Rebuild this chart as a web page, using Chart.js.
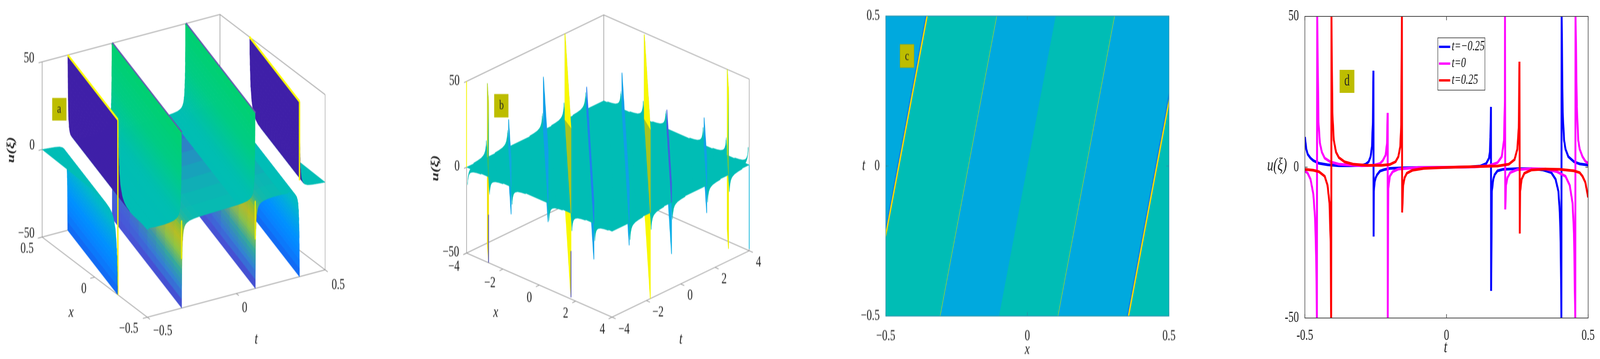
<!DOCTYPE html>
<html>
<head>
<meta charset="utf-8">
<title>u(xi) surfaces</title>
<script src="https://cdn.jsdelivr.net/npm/chart.js@4"></script>
<style>
html,body{margin:0;background:#fff;overflow:hidden;width:100%;height:920px}
#figure{position:absolute;left:0;top:0;width:100%;height:920px;overflow:hidden}
canvas{position:absolute;top:0;transform-origin:0 0}
</style>
</head>
<body>
<div id="figure"></div>
<script>
// panel a: pole lines t = pole + 0.2 x, one sheet profile read from the walls
const aPoles = [-0.456, -0.207, 0.207, 0.456];
const aLeftSign = [-1, 1, 1, -1];
const aRightSign = [1, -1, -1, 1];
const aOuterXi = [-0.6, -0.4, 0.4, 0.6];
const poleDist = [0.0005, 0.0007, 0.0009, 0.0011, 0.0013, 0.0015, 0.0018, 0.002, 0.0023, 0.0026, 0.003, 0.0035, 0.004, 0.0045, 0.005, 0.006, 0.007, 0.008, 0.009, 0.012, 0.016, 0.022, 0.03, 0.045, 0.07, 0.1];
const poleHeight = [50, 45, 40, 37, 34, 31, 28, 26, 24, 22, 20, 18, 16, 14.5, 13, 11.5, 10, 8.5, 7.5, 5.5, 4, 2.8, 2, 1.2, 0.7, 0.4];
const aTicksT = [-0.5, 0, 0.5];
const aTicksX = [-0.5, 0, 0.5];
const aTicksU = [-50, 0, 50];
const aEdgeFrom = [50, 0, 0, 50];
const aEdgeTo = [-50, -22, -22, 5];

// panel b: pole lines x + t = s, spike tops and bottoms
const bPoles = [-8, -6.79, -5.55, -3.52, -2.26, -1.0, 1.0, 2.23, 3.47, 5.52, 6.79, 8];
const bTop = [50, 43, 16, 31, 50, 13, 21, 49, 11, 16, 50, 0];
const bBottom = [0, -50, -16, -11, -49, -21, -13, -50, -30, -16, -43, -49];
const bTicksX = [-4, -2, 0, 2, 4];
const bTicksT = [-4, -2, 0, 2, 4];
const bTicksU = [-50, 0, 50];

// panel c: stripe edges at t = 0
const cYellowEdges = [-0.454, 0.457];
const cThinEdges = [-0.208, 0.208];
const cTealBands = [[-0.454, -0.208], [0, 0.208], [0.457, 0.9]];
const cXTicks = [-0.5, 0, 0.5];
const cXLabels = ['\u22120.5', '0', '0.5'];
const cYTicks = [-0.5, 0, 0.5];
const cYLabels = ['\u22120.5', '0', '0.5'];

// panel d: three time slices
const dNames = ['t=\u22120.25', 't=0', 't=0.25'];
const blueX = [-0.5, -0.495, -0.49, -0.48, -0.47, -0.45, -0.42, -0.38, -0.34, -0.3, -0.285, -0.275, -0.268, -0.263, -0.26, -0.258, -0.2575, -0.2565, -0.254, -0.25, -0.245, -0.235, -0.22, -0.2, -0.15, -0.1, 0, 0.08, 0.12, 0.14, 0.15, 0.153, 0.155, 0.157, 0.1575, 0.16, 0.165, 0.17, 0.18, 0.2, 0.25, 0.3, 0.34, 0.37, 0.385, 0.395, 0.4, 0.403, 0.4055, 0.4065, 0.41, 0.415, 0.42, 0.43, 0.45, 0.47, 0.5];
const blueU = [10, 6, 4.3, 3, 2.2, 1.3, 0.8, 0.5, 0.5, 0.6, 1, 1.8, 3.5, 7, 15, 32, -23, -8, -5, -3.5, -2.5, -1.3, -0.8, -0.4, -0.2, -0.1, -0.05, 0.1, 0.4, 1.2, 3, 5, 10, 20, -41, -8, -4, -2.5, -1.2, -0.7, -0.5, -0.5, -0.9, -1.8, -4, -8, -15, -25, -50, 50, 18, 9, 6, 3.5, 1.8, 1.1, 0.7];
const magentaX = [-0.5, -0.49, -0.48, -0.47, -0.464, -0.46, -0.4575, -0.4565, -0.452, -0.447, -0.44, -0.43, -0.41, -0.38, -0.34, -0.3, -0.26, -0.235, -0.225, -0.215, -0.21, -0.208, -0.2075, -0.2055, -0.2, -0.19, -0.17, -0.1, 0, 0.1, 0.15, 0.18, 0.195, 0.203, 0.206, 0.2065, 0.2075, 0.21, 0.215, 0.225, 0.25, 0.3, 0.35, 0.39, 0.42, 0.435, 0.445, 0.45, 0.4545, 0.4555, 0.46, 0.465, 0.47, 0.48, 0.49, 0.5];
const magentaU = [-1.2, -2, -4, -9, -17, -30, -50, 50, 15, 8, 5, 3, 1.8, 1, 0.7, 0.5, 0.6, 1.2, 2.2, 4, 8, 18, -50, -7, -3, -1.5, -0.6, -0.1, 0, 0.1, 0.5, 1.5, 3.5, 9, 22, 50, -14, -6, -3.5, -1.8, -0.8, -0.5, -0.6, -1.5, -3, -6, -12, -22, -50, 50, 20, 9, 6, 3.5, 2, 1.3];
const redX = [-0.5, -0.47, -0.45, -0.43, -0.42, -0.413, -0.409, -0.4072, -0.4062, -0.403, -0.398, -0.39, -0.38, -0.36, -0.33, -0.28, -0.23, -0.2, -0.18, -0.17, -0.163, -0.16, -0.1575, -0.1565, -0.153, -0.148, -0.14, -0.12, -0.08, 0, 0.1, 0.18, 0.22, 0.24, 0.25, 0.255, 0.2575, 0.2585, 0.26, 0.265, 0.275, 0.3, 0.35, 0.4, 0.45, 0.47, 0.48, 0.49, 0.5];
const redU = [-0.7, -1, -1.5, -3, -6, -12, -25, -50, 50, 18, 9, 5, 3.2, 1.8, 1, 0.6, 0.6, 0.9, 1.8, 3.5, 7, 14, 50, -15, -6, -3.5, -2, -1, -0.4, -0.05, 0.2, 0.4, 1, 2.5, 6, 13, 35, -22, -8, -4, -2, -0.9, -0.6, -0.7, -1.2, -1.8, -3, -5, -10];
const dXTicks = [-0.5, 0, 0.5];
const dXLabels = ['-0.5', '0', '0.5'];
const dYTicks = [-50, 0, 50];
const dYLabels = ['-50', '0', '50'];

// the window can be narrower than the 4140 wide picture, so everything is fitted to it
const fit = Math.min(1, window.innerWidth / 4140);
const squeeze = 0.7;
const serif = '"Liberation Serif"';
const teal = '#00BDB5';
const greyLine = '#999999';
const figure = document.getElementById('figure');

function hexToRgb(h) { return [1, 3, 5].map(i => parseInt(h.substr(i, 2), 16)); }
function mix(c1, c2, f) {
  const a = hexToRgb(c1), b = hexToRgb(c2);
  return '#' + a.map((v, i) => Math.round(v + (b[i] - v) * f).toString(16).padStart(2, '0')).join('');
}
function ramp(stops, v) {
  if (v <= stops[0][0]) return stops[0][1];
  for (let i = 1; i < stops.length; i++) {
    if (v <= stops[i][0]) return mix(stops[i - 1][1], stops[i][1], (v - stops[i - 1][0]) / (stops[i][0] - stops[i - 1][0]));
  }
  return stops[stops.length - 1][1];
}

function poly(pts, color, bw) {
  const closed = pts.concat([pts[0]]);
  return { data: closed.map(p => ({ x: p[0], y: p[1] })), showLine: true, fill: 'shape', backgroundColor: color, borderColor: color, borderWidth: bw === undefined ? 1 : bw, pointRadius: 0, tension: 0 };
}
function stroke(pts, color, w) {
  return { data: pts.map(p => ({ x: p[0], y: p[1] })), showLine: true, fill: false, borderColor: color, borderWidth: w, pointRadius: 0, tension: 0 };
}

// texts and little boxes, positions in picture pixels
function panelText(left, items) {
  return {
    id: 'panelText',
    afterDraw(chart) {
      const c = chart.ctx;
      items.forEach(it => {
        const px = (it.x - left) / squeeze;
        c.save();
        if (it.box) {
          c.fillStyle = it.box;
          c.fillRect(px, it.y, it.w / squeeze, it.h);
          if (it.edge) { c.strokeStyle = it.edge; c.lineWidth = 1.5; c.strokeRect(px, it.y, it.w / squeeze, it.h); }
        } else if (it.seg) {
          c.strokeStyle = it.seg; c.lineWidth = it.lw;
          c.beginPath(); c.moveTo(px, it.y); c.lineTo((it.x2 - left) / squeeze, it.y); c.stroke();
        } else {
          c.font = it.font || '39px ' + serif;
          c.fillStyle = it.color || '#222';
          c.textAlign = it.align || 'center';
          c.textBaseline = 'middle';
          c.translate(px, it.y);
          if (it.rot) c.rotate(it.rot);
          c.fillText(it.text, 0, 0);
        }
        c.restore();
      });
    }
  };
}

// frame round the plot with short inward ticks on all four sides
function framePlugin(color, width, len) {
  return {
    id: 'frame',
    afterDatasetsDraw(chart) {
      const c = chart.ctx, a = chart.chartArea, sx = chart.scales.x, sy = chart.scales.y;
      c.save();
      c.strokeStyle = color; c.lineWidth = width;
      c.strokeRect(a.left, a.top, a.right - a.left, a.bottom - a.top);
      sx.ticks.forEach(t => {
        const p = sx.getPixelForValue(t.value);
        c.beginPath(); c.moveTo(p, a.top); c.lineTo(p, a.top + len); c.moveTo(p, a.bottom); c.lineTo(p, a.bottom - len); c.stroke();
      });
      sy.ticks.forEach(t => {
        const p = sy.getPixelForValue(t.value);
        c.beginPath(); c.moveTo(a.left, p); c.lineTo(a.left + len, p); c.moveTo(a.right, p); c.lineTo(a.right - len, p); c.stroke();
      });
      c.restore();
    }
  };
}

function addChart(left, width, datasets, scales, padding, plugins, soft) {
  const cv = document.createElement('canvas');
  cv.width = Math.round(width / squeeze);
  cv.height = 920;
  cv.style.left = (left * fit) + 'px';
  cv.style.transform = 'scaleX(' + (squeeze * fit) + ')';
  if (soft) cv.style.filter = 'blur(0.8px)';
  figure.appendChild(cv);
  return new Chart(cv, {
    type: 'scatter',
    data: { datasets: datasets },
    options: {
      responsive: false, animation: false, devicePixelRatio: 1, events: [],
      layout: { padding: padding },
      plugins: { legend: { display: false }, tooltip: { enabled: false } },
      scales: scales
    },
    plugins: plugins
  });
}

function hiddenScales(left, width) {
  return {
    x: { type: 'linear', display: false, min: left, max: left + width },
    y: { type: 'linear', display: false, min: 0, max: 920, reverse: true }
  };
}

function tickAxis(vals, labels, min, max, size, pad) {
  return {
    type: 'linear', min: min, max: max,
    grid: { display: false }, border: { display: false },
    afterBuildTicks(s) { s.ticks = vals.map(v => ({ value: v })); },
    afterFit(s) { if (s.isHorizontal()) s.height = size; else s.width = size; },
    ticks: {
      autoSkip: false, maxRotation: 0, padding: pad, color: '#222',
      font: { family: 'Liberation Serif', size: 39 },
      callback: v => labels[vals.indexOf(v)]
    }
  };
}

/* ===== panel a ===== */
function projA(t, x, u) {
  return [381 + (t + 0.5) * 460 - (x + 0.5) * 272, 813 - (t + 0.5) * 121.5 - (x + 0.5) * 205.4 - (u + 50) * 4.49];
}
const greenStops = [[0, teal], [10, '#00C4A0'], [25, '#00CC85'], [50, '#00D070']];
const indigoStops = [[0, teal], [2.5, teal], [3.5, '#3F1FA8'], [50, '#3F1FA8']];
const blueStops = [[0, teal], [10, '#00B8C8'], [20, '#00A4E8'], [30, '#0090FF'], [40, '#0880FF'], [50, '#1464F0']];
const mottledStops = [[0, teal], [2, '#20B8A0'], [6, '#90C030'], [12, '#B8C020'], [20, '#90C840'], [30, '#30A8A0'], [40, '#3080D8'], [50, '#4A40D0']];

function xRange(xi) {
  return [Math.max(-0.5, (-0.5 - xi) / 0.2), Math.min(0.5, (0.5 - xi) / 0.2)];
}
function sheetPoint(xi, x, u) { return projA(xi + 0.2 * x, x, u); }

const aStations = aOuterXi.map(xi => ({ xi: xi, u: 0, pole: -1 }));
aPoles.forEach((p, i) => {
  poleDist.forEach((d, k) => {
    aStations.push({ xi: p - d, u: aLeftSign[i] * poleHeight[k], pole: i, side: 'L' });
    aStations.push({ xi: p + d, u: aRightSign[i] * poleHeight[k], pole: i, side: 'R' });
  });
});
aStations.sort((a, b) => b.xi - a.xi);

function sheetStops(s) {
  if (s.pole === 0 || s.pole === 3) return s.u > 0 ? indigoStops : blueStops;
  return s.u > 0 ? greenStops : mottledStops;
}

const aBack = [];
// box first
[[[-0.5, 0.5, 50], [0.5, 0.5, 50], [-0.5 + 1, -0.5, 50]],
 [[-0.5, 0.5, 50], [-0.5, 0.5, -50], [0.5, 0.5, -50], [0.5, -0.5, -50], [-0.5, -0.5, -50], [-0.5, 0.5, -50]],
 [[0.5, 0.5, 50], [0.5, 0.5, -50]],
 [[0.5, -0.5, 50], [0.5, -0.5, -50]]].forEach(run => aBack.push(stroke(run.map(p => projA(p[0], p[1], p[2])), greyLine, 2)));
aTicksT.forEach(t => aBack.push(stroke([projA(t, -0.5, -50), projA(t, -0.525, -50)], greyLine, 2)));
aTicksX.forEach(x => aBack.push(stroke([projA(-0.5, x, -50), projA(-0.525, x, -50)], greyLine, 2)));
aTicksU.forEach(u => aBack.push(stroke([projA(-0.5, 0.5, u), projA(-0.52, 0.5, u)], greyLine, 2)));

for (let i = 0; i < aStations.length - 1; i++) {
  const s1 = aStations[i], s2 = aStations[i + 1];
  if (s1.pole === s2.pole && s1.pole >= 0 && s1.side !== s2.side) {
    // crossing a pole line: no sheet here, only its bright edges
    const p = aPoles[s1.pole], r = xRange(p), big = s1.pole === 0 || s1.pole === 3;
    aBack.push(stroke([sheetPoint(p, r[0], aEdgeFrom[s1.pole]), sheetPoint(p, r[0], aEdgeTo[s1.pole])], '#F4F000', big ? 5 : 4));
    aBack.push(stroke([sheetPoint(p, r[0], 50), sheetPoint(p, r[1], 50)], big ? '#FFFF00' : '#6A55B0', big ? 6 : 8));
    continue;
  }
  const lead = Math.abs(s1.u) > Math.abs(s2.u) ? s1 : s2;
  const uMean = (Math.abs(s1.u) + Math.abs(s2.u)) / 2;
  const base = lead.pole < 0 ? teal : ramp(sheetStops(lead), uMean);
  const r1 = xRange(s1.xi), r2 = xRange(s2.xi);
  const pieces = lead.pole >= 0 && sheetStops(lead) === mottledStops ? 8 : 1;
  for (let j = 0; j < pieces; j++) {
    const f0 = j / pieces, f1 = (j + 1) / pieces;
    const at = (r, f) => r[0] + (r[1] - r[0]) * f;
    const color = pieces > 1 ? mix(base, '#4A55D8', Math.min(0.8, f1 * f1)) : base;
    aBack.push(poly([
      sheetPoint(s1.xi, at(r1, f0), s1.u), sheetPoint(s1.xi, at(r1, f1), s1.u),
      sheetPoint(s2.xi, at(r2, f1), s2.u), sheetPoint(s2.xi, at(r2, f0), s2.u)
    ], color, 1));
  }
}

addChart(0, 1000, aBack.slice().reverse(), hiddenScales(0, 1000), 0, [panelText(0, [
  { box: '#BDBD00', x: 135, y: 251, w: 37, h: 58 },
  { text: 'a', x: 153, y: 280, font: '34px ' + serif },
  { text: '50', x: 75, y: 150 }, { text: '0', x: 83, y: 373 }, { text: '\u221250', x: 68, y: 599 },
  { text: '0.5', x: 70, y: 638 }, { text: '0', x: 217, y: 741 }, { text: '\u22120.5', x: 333, y: 843 },
  { text: '\u22120.5', x: 421, y: 849 }, { text: '0', x: 633, y: 790 }, { text: '0.5', x: 875, y: 731 },
  { text: 'x', x: 184, y: 801, font: 'italic 42px ' + serif }, { text: 't', x: 663, y: 870, font: 'italic 42px ' + serif },
  { text: 'u(\u03BE)', x: 29, y: 384, rot: -Math.PI / 2, font: 'italic bold 40px ' + serif }
])], true);

/* ===== panel b ===== */
function projB(x, t, u) {
  const a = (x + 4) / 8, b = (t + 4) / 8;
  return [1207.6 + a * 376.4 + b * 355, 648.5 + a * 164.3 - b * 170.2 - (u + 50) * 4.4];
}
function bEnds(s) {
  const lo = Math.max(-4, s - 4), hi = Math.min(4, s + 4);
  return { back: [lo, s - lo], front: [hi, s - hi] };
}
const bUpperColor = ['#F8F800', '#30C070', '#10A8E0', '#10A0E8', '#A8C420', '#2080F0', '#10A0E8', '#A8C420', '#4060E0', '#10A0E8', '#60C850', '#00B8E0'];
const bLowerColor = ['#F8F800', '#F0E000', '#10A8E8', '#10B0E0', '#F8F800', '#10A0E8', '#10A8E8', '#F8F800', '#10B0E8', '#10A8E8', '#F0F000', '#00B8E0'];
const bTipColor = [null, '#5050C0', null, null, '#5050C0', null, null, null, null, null, null, null];
const bGlowColor = ['#F8F800', '#C8D820', null, null, '#F8F800', null, null, '#F8F800', null, null, '#F8F800', null];

const bLayers = [];
[[[-4, -4, 50], [-4, 4, 50], [4, 4, 50]],
 [[-4, -4, 50], [-4, -4, -50], [4, -4, -50], [4, 4, -50], [-4, 4, -50], [-4, -4, -50]],
 [[-4, 4, 50], [-4, 4, -50]],
 [[4, 4, 50], [4, 4, -50]]].forEach(run => bLayers.push(stroke(run.map(p => projB(p[0], p[1], p[2])), greyLine, 2)));
bTicksX.forEach(x => bLayers.push(stroke([projB(x, -4, -50), projB(x, -4.2, -50)], greyLine, 2)));
bTicksT.forEach(t => bLayers.push(stroke([projB(4, t, -50), projB(4.2, t, -50)], greyLine, 2)));
bTicksU.forEach(u => bLayers.push(stroke([projB(-4, -4, u), projB(-4, -4.15, u)], greyLine, 2)));

function bFlare(s, sign) {
  const kept = poleDist.map((d, k) => k).filter(k => poleHeight[k] <= 10);
  const backPts = [], frontPts = [];
  kept.forEach(k => {
    const sk = sign > 0 ? s - poleDist[k] * 8 : s + poleDist[k] * 8;
    if (Math.abs(sk) > 8) return;
    const e = bEnds(sk);
    backPts.push(projB(e.back[0], e.back[1], sign * poleHeight[k]));
    frontPts.push(projB(e.front[0], e.front[1], sign * poleHeight[k]));
  });
  return backPts.length ? poly(backPts.concat(frontPts.reverse()), teal, 1) : null;
}

bPoles.forEach((s, i) => {
  if (bBottom[i] < 0) {
    const e = bEnds(s);
    bLayers.push(poly([projB(e.back[0], e.back[1], 0), projB(e.front[0], e.front[1], 0), projB(e.front[0], e.front[1], bBottom[i]), projB(e.back[0], e.back[1], bBottom[i])], bLowerColor[i], 2.5));
    if (bTipColor[i]) bLayers.push(stroke([projB(e.front[0], e.front[1], -22), projB(e.front[0], e.front[1], bBottom[i])], bTipColor[i], 3));
  }
  const low = bFlare(s, -1);
  if (low) bLayers.push(low);
});
bLayers.push(poly([projB(-4, -4, 0), projB(4, -4, 0), projB(4, 4, 0), projB(-4, 4, 0)], teal, 1));
bPoles.forEach((s, i) => {
  const up = bFlare(s, 1);
  if (up) bLayers.push(up);
  if (bTop[i] > 0) {
    const e = bEnds(s);
    bLayers.push(poly([projB(e.back[0], e.back[1], 0), projB(e.front[0], e.front[1], 0), projB(e.front[0], e.front[1], bTop[i]), projB(e.back[0], e.back[1], bTop[i])], bUpperColor[i], 2.5));
    // the part standing clear above the sheet is brighter
    if (bGlowColor[i]) bLayers.push(poly([projB(e.back[0], e.back[1], bTop[i]), projB(e.front[0], e.front[1], bTop[i]), projB(e.back[0], e.back[1], 0)], bGlowColor[i], 2));
  }
});

addChart(1000, 1050, bLayers.slice().reverse(), hiddenScales(1000, 1050), 0, [panelText(1000, [
  { box: '#BDBD00', x: 1279, y: 241, w: 37, h: 60 },
  { text: 'b', x: 1298, y: 271, font: '34px ' + serif },
  { text: '50', x: 1176, y: 208 }, { text: '0', x: 1183, y: 427 }, { text: '\u221250', x: 1167, y: 647 },
  { text: '\u22124', x: 1175, y: 684 }, { text: '\u22122', x: 1268, y: 726 }, { text: '0', x: 1370, y: 764 }, { text: '2', x: 1464, y: 804 }, { text: '4', x: 1559, y: 845 },
  { text: '\u22124', x: 1615, y: 845 }, { text: '\u22122', x: 1703, y: 801 }, { text: '0', x: 1786, y: 758 }, { text: '2', x: 1874, y: 716 }, { text: '4', x: 1963, y: 673 },
  { text: 'x', x: 1283, y: 801, font: 'italic 42px ' + serif }, { text: 't', x: 1762, y: 870, font: 'italic 42px ' + serif },
  { text: 'u(\u03BE)', x: 1127, y: 431, rot: -Math.PI / 2, font: 'italic bold 40px ' + serif }
])], true);

/* ===== panel c ===== */
const cDrift = 0.2;
const cLayers = [poly([[-0.7, -0.5], [0.7, -0.5], [0.7, 0.5], [-0.7, 0.5]], '#00A9DE', 0)];
cTealBands.forEach(b => {
  cLayers.push(poly([[b[0] - cDrift / 2, -0.5], [b[0] + cDrift / 2, 0.5], [b[1] + cDrift / 2, 0.5], [b[1] - cDrift / 2, -0.5]], teal, 0));
});
cThinEdges.forEach(h => cLayers.push(stroke([[h - cDrift / 2, -0.5], [h + cDrift / 2, 0.5]], '#9CD23C', 2)));
cYellowEdges.forEach(h => {
  cLayers.push(stroke([[h - 0.002 - cDrift / 2, -0.5], [h - 0.002 + cDrift / 2, 0.5]], '#0880E0', 9));
  cLayers.push(stroke([[h - cDrift / 2, -0.5], [h + cDrift / 2, 0.5]], '#FFD800', 5));
});

const cLeft = 2150, cPlotL = 2292, cPlotR = 3025, cTop = 41, cBottom = 810, cAxisW = 90, cAxisH = 80;
addChart(cLeft, 950, cLayers.slice().reverse(), {
  x: tickAxis(cXTicks, cXLabels, -0.5, 0.5, cAxisH, 20),
  y: tickAxis(cYTicks, cYLabels, -0.5, 0.5, cAxisW, 14)
}, { left: (cPlotL - cLeft) / squeeze - cAxisW, right: (cLeft + 950 - cPlotR) / squeeze, top: cTop, bottom: 920 - cBottom - cAxisH },
[framePlugin('#2A8FA8', 2, 10), panelText(cLeft, [
  { box: '#BDBD00', x: 2329, y: 114, w: 36, h: 59, edge: '#A8A800' },
  { text: 'c', x: 2347, y: 145, font: '34px ' + serif },
  { text: 't', x: 2235, y: 425, font: 'italic 42px ' + serif },
  { text: 'x', x: 2658, y: 896, font: 'italic 42px ' + serif }
])], true);

/* ===== panel d ===== */
const dSeries = [[blueX, blueU, '#0000FF'], [magentaX, magentaU, '#FF00FF'], [redX, redU, '#FF0000']];
const dSets = dSeries.map((s, i) => ({
  data: s[0].map((x, k) => ({ x: x, y: s[1][k] })), showLine: true, fill: false, borderColor: s[2], borderWidth: 7, pointRadius: 0, tension: 0, order: 2 - i
}));
const dLeft = 3230, dPlotL = 3376, dPlotR = 4109, dTop = 42, dBottom = 815, dAxisW = 90, dAxisH = 80;
const legendItems = [];
dNames.forEach((n, i) => {
  const y = 120 + i * 43;
  legendItems.push({ seg: dSeries[i][2], x: 3723, x2: 3752, y: y, lw: 6 });
  legendItems.push({ text: n, x: 3756, y: y, align: 'left', font: 'italic 36px ' + serif, color: '#111' });
});
addChart(dLeft, 910, dSets, {
  x: tickAxis(dXTicks, dXLabels, -0.5, 0.5, dAxisH, 14),
  y: tickAxis(dYTicks, dYLabels, -50, 50, dAxisW, 14)
}, { left: (dPlotL - dLeft) / squeeze - dAxisW, right: (dLeft + 910 - dPlotR) / squeeze, top: dTop, bottom: 920 - dBottom - dAxisH },
[framePlugin('#444444', 2, 10), panelText(dLeft, [
  { box: '#BDBD00', x: 3466, y: 179, w: 38, h: 59 },
  { text: 'd', x: 3485, y: 209, font: '39px ' + serif },
  { box: '#FFFFFF', x: 3720, y: 97, w: 122, h: 134, edge: '#222222' }
].concat(legendItems).concat([
  { text: 't', x: 3740, y: 891, font: 'italic 44px ' + serif },
  { text: 'u(\u03BE)', x: 3304, y: 425, font: 'italic 46px ' + serif }
]))], false);
</script>
</body>
</html>
